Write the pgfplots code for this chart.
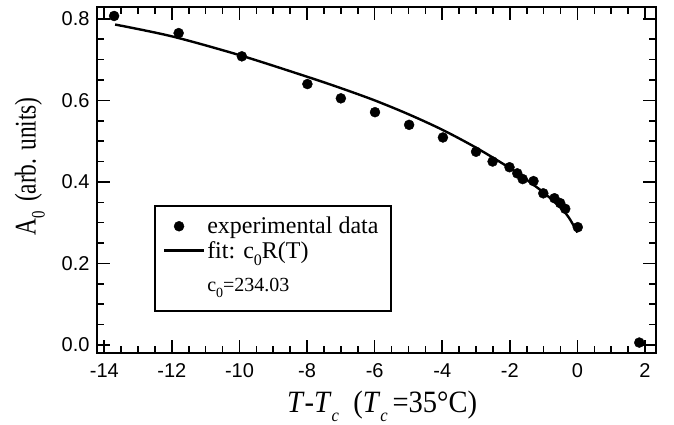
\documentclass[border=0pt]{standalone}
\usepackage{graphicx}
\usepackage{pgfplots}
\pgfplotsset{compat=1.18}
\usepackage{fontspec}
\setmainfont{Liberation Serif}
\newfontfamily\arial{Liberation Sans}

\begin{document}
\begin{tikzpicture}
\begin{axis}[
  name=ax,
  width=559pt, height=346pt, scale only axis,
  xmin=-14.216, xmax=2.325, ymin=-0.0196, ymax=0.829,
  xtick={-14,-12,-10,-8,-6,-4,-2,0,2},
  ytick={0,0.2,0.4,0.6,0.8},
  minor x tick num=3, minor y tick num=3,
  tick align=inside,
  major tick length=13pt, minor tick length=7pt,
  axis line style={line width=2.2pt},
  every tick/.style={black, line width=1.6pt},
  /pgf/number format/assume math mode=true,
  tick label style={font=\fontsize{20}{20}\selectfont\arial},
  xticklabel style={yshift=-7pt},
  yticklabel style={xshift=-4pt, /pgf/number format/.cd, fixed, fixed zerofill, precision=1},
  xlabel={\scalebox{0.92}[1]{\fontsize{31}{31}\selectfont\textit{T}-\textit{T}\raisebox{-0.3em}{\fontsize{18}{18}\selectfont\textit{c}}\hspace{0.5em}(\textit{T}\raisebox{-0.3em}{\fontsize{18}{18}\selectfont\textit{c}}\,=35°C)}},
  xlabel style={at={(axis description cs:0.51,-0.108)}, anchor=north, inner sep=0pt},
  ylabel={\scalebox{0.78}[1]{\fontsize{30}{30}\selectfont A\raisebox{-0.3em}{\fontsize{19}{19}\selectfont 0}\hspace{0.4em}(arb. units)}},
  ylabel style={at={(axis description cs:-0.093,0.539)}, anchor=south, inner sep=0pt},
  legend cell align=left,
  legend style={at={(axis cs:-12.51,0.341)}, anchor=north west, draw=none, fill=none,
    font=\fontsize{24}{26}\selectfont, inner xsep=8pt, inner ysep=9pt, row sep=2pt},
]
\draw[line width=1.5pt, black] (axis cs:-12.50,0.341) rectangle (axis cs:-5.51,0.0834);
\addplot[only marks, mark=*, mark size=5pt, black,
  legend image code/.code={\draw[mark repeat=2, mark phase=2] plot coordinates {(0pt,0pt) (15pt,0pt) (44pt,0pt)};}]
  coordinates {
  (-13.71,0.807) (-11.80,0.765) (-9.93,0.708) (-7.99,0.640) (-7.00,0.605)
  (-5.99,0.571) (-4.98,0.540) (-3.98,0.509) (-3.00,0.474) (-2.51,0.450)
  (-2.01,0.436) (-1.78,0.421) (-1.62,0.407) (-1.30,0.402) (-1.01,0.372)
  (-0.68,0.360) (-0.51,0.348) (-0.36,0.334) (0.01,0.289) (1.83,0.006)
  };
\addlegendentry{experimental data}
\addplot[black, line width=2.4pt, smooth,
  legend image code/.code={\draw[line width=2.4pt] (0pt,0pt) -- (40pt,0pt);}]
  coordinates {
  (-13.68,0.786) (-12,0.757) (-10,0.711) (-8,0.658) (-7,0.630)
  (-6,0.600) (-5,0.566) (-4,0.528) (-3,0.484) (-2,0.434)
  (-1.5,0.405) (-1,0.374) (-0.5,0.337) (-0.25,0.312) (0,0.276)
  };
\addlegendentry{fit: c\raisebox{-0.3em}{\fontsize{16}{16}\selectfont 0}R(T)}
\addlegendimage{empty legend}
\addlegendentry{\rule[-10pt]{0pt}{36pt}\fontsize{20}{20}\selectfont c\raisebox{-0.3em}{\fontsize{14}{14}\selectfont 0}=234.03}
\end{axis}
\pgfresetboundingbox
\path ([shift={(-97pt,-71pt)}]ax.south west) rectangle ([shift={(18pt,7pt)}]ax.north east);
\end{tikzpicture}
\end{document}
